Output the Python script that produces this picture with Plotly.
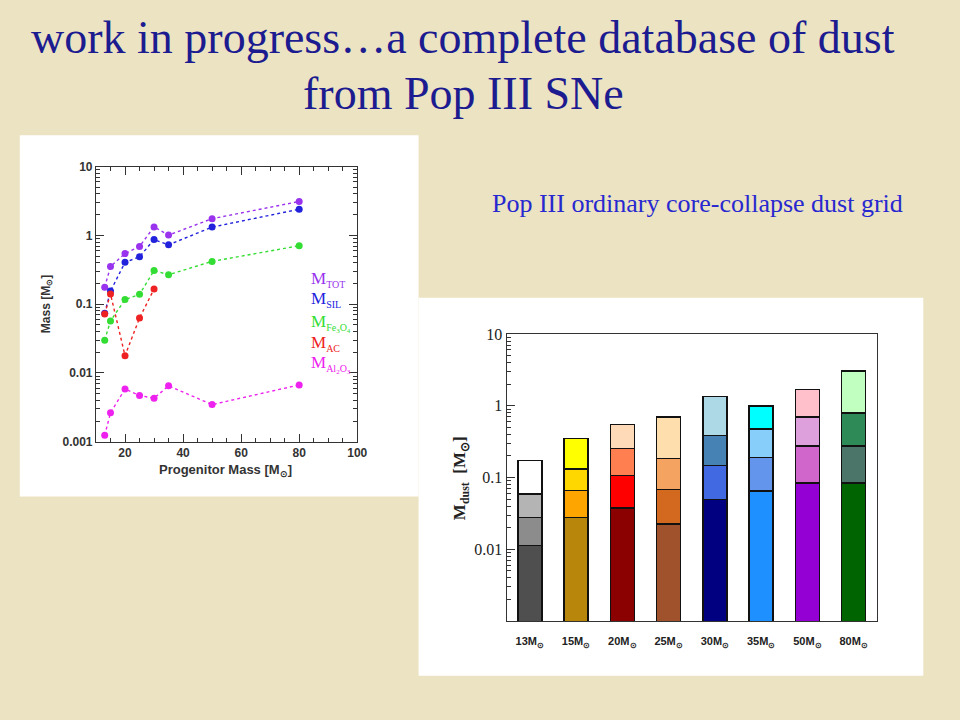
import plotly.graph_objects as go

# ---------------- Left chart data (Progenitor mass vs dust mass) ----------------
prog_mass = [13, 15, 20, 25, 30, 35, 50, 80]
m_tot = [0.177, 0.352, 0.544, 0.69, 1.33, 1.01, 1.75, 3.11]
m_sil = [0.074, 0.155, 0.406, 0.489, 0.87, 0.73, 1.32, 2.4]
m_fe3o4 = [0.030, 0.057, 0.117, 0.139, 0.309, 0.268, 0.419, 0.708]
ac_mass = [13, 15, 20, 25, 30]
m_ac = [0.0718, 0.141, 0.0178, 0.063, 0.166]
m_al2o3 = [0.00124, 0.00264, 0.00585, 0.0047, 0.0043, 0.0065, 0.00347, 0.0067]

# ---------------- Right chart data (stacked dust grid) ----------------
bar_labels = ["13M<sub>⊙</sub>", "15M<sub>⊙</sub>", "20M<sub>⊙</sub>", "25M<sub>⊙</sub>",
              "30M<sub>⊙</sub>", "35M<sub>⊙</sub>", "50M<sub>⊙</sub>", "80M<sub>⊙</sub>"]
layer1 = [0.0113, 0.0279, 0.0374, 0.0224, 0.0491, 0.0644, 0.0837, 0.0837]
layer2 = [0.0163, 0.0379, 0.0691, 0.0456, 0.0979, 0.1266, 0.1893, 0.1893]
layer3 = [0.0317, 0.0652, 0.1475, 0.1170, 0.2390, 0.2840, 0.4200, 0.5210]
layer4 = [0.1127, 0.2170, 0.2910, 0.5080, 0.9540, 0.5250, 1.0070, 2.2660]

colors1 = ["#4f4f4f", "#b8860b", "#8b0000", "#a0522d", "#000080", "#1e90ff", "#9400d3", "#006400"]
colors2 = ["#8c8c8c", "#ffa500", "#ff0000", "#d2691e", "#4169e1", "#6495ed", "#d066cc", "#4a7568"]
colors3 = ["#b4b4b4", "#ffd700", "#ff7f50", "#f4a460", "#4682b4", "#87cefa", "#dda0dd", "#2e8b57"]
colors4 = ["#ffffff", "#ffff00", "#ffdab9", "#ffdead", "#add8e6", "#00ffff", "#ffc0cb", "#c1ffc1"]

W, H = 960, 720

def px(x):
    return x / W

def py(y):
    return 1 - y / H

# minor tick positions on the log axes (2..9 within each decade)
log_minor = [m * 10.0 ** e for e in range(-3, 1) for m in range(2, 10)]

fig = go.Figure()

# Left chart traces
line_series = [
    (prog_mass, m_tot, "#9933ee", "M_TOT"),
    (prog_mass, m_sil, "#2222dd", "M_SIL"),
    (prog_mass, m_fe3o4, "#33dd33", "M_Fe3O4"),
    (ac_mass, m_ac, "#ee2222", "M_AC"),
    (prog_mass, m_al2o3, "#ee22ee", "M_Al2O3"),
]
for xs, ys, col, nm in line_series:
    fig.add_trace(go.Scatter(
        x=xs, y=ys, mode="lines+markers", name=nm,
        line=dict(color=col, width=1.4, dash="dot"),
        marker=dict(color=col, size=7),
        xaxis="x", yaxis="y", showlegend=False))

# Right chart traces
for vals, cols in [(layer1, colors1), (layer2, colors2), (layer3, colors3), (layer4, colors4)]:
    fig.add_trace(go.Bar(
        x=bar_labels, y=vals,
        marker=dict(color=cols, line=dict(color="#111111", width=1.5)),
        width=0.52, xaxis="x2", yaxis="y2", showlegend=False))

axis_font_l = dict(family="Liberation Sans", size=12, color="#333333", weight="bold")

fig.update_layout(
    width=W, height=H,
    margin=dict(l=0, r=0, t=0, b=0),
    paper_bgcolor="#ece3c2",
    plot_bgcolor="rgba(0,0,0,0)",
    barmode="stack",
    xaxis=dict(domain=[px(97), px(361)], anchor="y", range=[10, 100],
               tick0=0, dtick=20, ticks="inside", ticklen=8, tickwidth=1,
               showline=True, mirror="allticks", linecolor="#333333", linewidth=1.2,
               tickcolor="#333333", showgrid=False, zeroline=False,
               minor=dict(ticks="inside", ticklen=4, tick0=0, dtick=5, tickcolor="#333333", showgrid=False),
               tickfont=axis_font_l),
    yaxis=dict(domain=[py(443), py(162)], anchor="x", type="log", range=[-3, 1],
               tickvals=[0.001, 0.01, 0.1, 1, 10], ticktext=["0.001", "0.01", "0.1", "1", "10"],
               ticks="inside", ticklen=8, tickwidth=1,
               showline=True, mirror="allticks", linecolor="#333333", linewidth=1.2,
               tickcolor="#333333", showgrid=False, zeroline=False,
               minor=dict(ticks="inside", ticklen=4, tickmode="array", tickvals=log_minor,
                          tickcolor="#333333", showgrid=False),
               tickfont=axis_font_l),
    xaxis2=dict(domain=[px(512), px(886)], anchor="y2", type="category",
                range=[-0.5, 7.5], ticks="", showline=True, mirror=True,
                linecolor="#333333", linewidth=1.3, showgrid=False, zeroline=False,
                ticklabelstandoff=10,
                tickfont=dict(family="Liberation Sans", size=11, color="#222222", weight="bold")),
    yaxis2=dict(domain=[py(626), py(333)], anchor="x2", type="log", range=[-3, 1],
                tickvals=[0.01, 0.1, 1, 10], ticktext=["0.01", "0.1", "1", "10"],
                ticks="inside", ticklen=8, tickwidth=1, tickcolor="#333333",
                showline=True, mirror=True, linecolor="#333333", linewidth=1.3,
                showgrid=False, zeroline=False,
                minor=dict(ticks="inside", ticklen=4, tickmode="array", tickvals=log_minor,
                           tickcolor="#333333", showgrid=False),
                tickfont=dict(family="Liberation Serif", size=16, color="#222222")),
    shapes=[
        dict(type="rect", xref="paper", yref="paper", x0=px(20), x1=px(423), y0=py(499), y1=py(130),
             fillcolor="white", line=dict(width=0), layer="below"),
        dict(type="rect", xref="paper", yref="paper", x0=px(423), x1=px(933), y0=py(682), y1=py(296),
             fillcolor="white", line=dict(width=0), layer="below"),
    ],
)

annotations = [
    dict(text="work in progress…a complete database of dust", x=px(468), y=py(58), yanchor="bottom",
         font=dict(family="Liberation Serif", size=46, color="#1c1c90")),
    dict(text="from Pop III SNe", x=px(468), y=py(115), yanchor="bottom",
         font=dict(family="Liberation Serif", size=46, color="#1c1c90")),
    dict(text="Pop III ordinary core-collapse dust grid", x=px(705), y=py(200), yanchor="middle",
         font=dict(family="Liberation Serif", size=26, color="#2828d0")),
    dict(text="Mass [M<sub>⊙</sub>]", x=px(47), y=py(303), textangle=-90,
         font=dict(family="Liberation Sans", size=12, color="#333333", weight="bold")),
    dict(text="Progenitor Mass [M<sub>⊙</sub>]", x=px(228), y=py(472),
         font=dict(family="Liberation Sans", size=13, color="#333333", weight="bold")),
    dict(text="M<sub>dust</sub>  [M<sub>⊙</sub>]", x=px(466), y=py(480), textangle=-90,
         font=dict(family="Liberation Serif", size=17, color="#222222", weight="bold")),
]
sub_style = "<span style='font-size:10px'>{}</span>"
legend_items = [
    ("M<sub>" + sub_style.format("TOT") + "</sub>", "#9933ee", 277),
    ("M<sub>" + sub_style.format("SIL") + "</sub>", "#2222dd", 298),
    ("M<sub>" + sub_style.format("Fe<sub>3</sub>O<sub>4</sub>") + "</sub>", "#33dd33", 322),
    ("M<sub>" + sub_style.format("AC") + "</sub>", "#ee2222", 343),
    ("M<sub>" + sub_style.format("Al<sub>2</sub>O<sub>3</sub>") + "</sub>", "#ee22ee", 364),
]
for txt, col, yy in legend_items:
    annotations.append(dict(text=txt, x=px(312), y=py(yy), xanchor="left", yanchor="middle",
                            font=dict(family="Liberation Serif", size=17, color=col)))
for a in annotations:
    a.setdefault("xref", "paper")
    a.setdefault("yref", "paper")
    a.setdefault("xanchor", "center")
    a.setdefault("showarrow", False)
fig.update_layout(annotations=annotations)

fig.write_html(
    "out.html",
    config={"displayModeBar": False},
    post_script=(
        "document.documentElement.style.margin='0';"
        "document.body.style.margin='0';"
        "document.body.style.overflow='hidden';"
        "var gd=document.getElementById('{plot_id}');"
        "gd.style.position='fixed';gd.style.left='0px';gd.style.top='0px';"
    ),
)
